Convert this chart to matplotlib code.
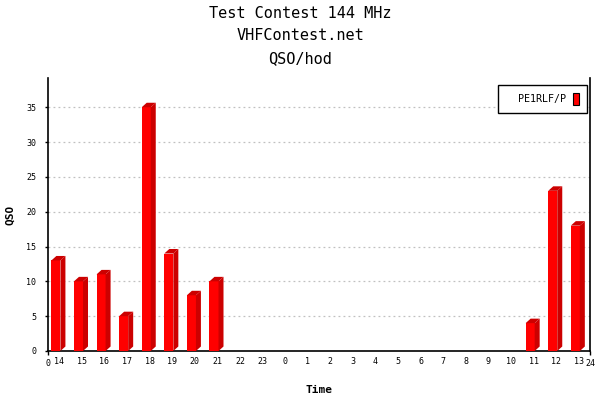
import matplotlib
matplotlib.use("Agg")
import matplotlib.pyplot as plt
from matplotlib.patches import Polygon, Patch

# QSO count per hour, contest runs 14:00 -> 13:00 next day
hours = [14, 15, 16, 17, 18, 19, 20, 21, 22, 23, 0, 1, 2, 3, 4, 5, 6, 7, 8, 9, 10, 11, 12, 13]
qso = [13, 10, 11, 5, 35, 14, 8, 10, 0, 0, 0, 0, 0, 0, 0, 0, 0, 0, 0, 0, 0, 4, 23, 18]
yticks = [0, 5, 10, 15, 20, 25, 30, 35]
station = "PE1RLF/P"
titles = ["Test Contest 144 MHz", "VHFContest.net", "QSO/hod"]

FRONT = "#ff0000"
SIDE = "#cc0000"
MONO = "DejaVu Sans Mono"

fig = plt.figure(figsize=(6, 4), dpi=100)
W, H = 600, 400
ax = fig.add_axes([48 / W, 1 - 351 / H, (590 - 48) / W, (351 - 78) / H])
ax.set_xlim(0, len(hours))
ax.set_ylim(0, 39.2)

# front faces
xs = [i + 0.15 for i in range(len(hours))]
bw = 0.40
ax.bar(xs, qso, width=bw, align="edge", color=FRONT, zorder=3, linewidth=0)

# fake 3D depth (jpgraph style): side + top faces, ~5px right, ~4.5px up
p0 = ax.transData.transform((0, 0))
p1 = ax.transData.transform((1, 1))
dx = 5 / (p1[0] - p0[0])
dy = 4.5 / (p1[1] - p0[1])
for x, h in zip(xs, qso):
    if h <= 0:
        continue
    x1 = x + bw
    ax.add_patch(Polygon([(x1, 0), (x1 + dx, dy), (x1 + dx, h + dy), (x1, h)],
                         closed=True, facecolor=SIDE, edgecolor="none", zorder=3))
    ax.add_patch(Polygon([(x, h), (x + dx, h + dy), (x1 + dx, h + dy), (x1, h)],
                         closed=True, facecolor=SIDE, edgecolor="none", zorder=3))

# grid
ax.set_yticks(yticks)
ax.yaxis.grid(True, color="#c0c0c0", linestyle=(0, (1.5, 2.5)), linewidth=0.9, zorder=0)
ax.set_axisbelow(True)

# axes frame: no top line
ax.spines["top"].set_visible(False)
for s in ("left", "right", "bottom"):
    ax.spines[s].set_linewidth(1.2)

# x ticks: 0 and 24 at ends, hour labels centred in each slot
ax.set_xticks([0, len(hours)])
ax.set_xticklabels(["0", str(len(hours))], fontfamily=MONO, fontsize=6)
ax.set_xticks([i + 0.5 for i in range(len(hours))], minor=True)
ax.set_xticklabels([str(h) for h in hours], minor=True, fontfamily=MONO, fontsize=6)
ax.tick_params(axis="x", which="major", length=3, width=1, pad=3)
ax.tick_params(axis="x", which="minor", length=0, pad=4)
ax.tick_params(axis="y", length=2.5, width=1, pad=6, labelsize=6)
for lbl in ax.get_yticklabels():
    lbl.set_fontfamily(MONO)

ax.set_xlabel("Time", fontfamily=MONO, fontweight="bold", fontsize=8, labelpad=12)
ax.set_ylabel("QSO", fontfamily=MONO, fontweight="bold", fontsize=8, labelpad=8)

for y, t in zip([14, 36, 59], titles):
    fig.text(0.5, 1 - y / H, t, ha="center", va="center",
             fontfamily=MONO, fontsize=11)

leg = ax.legend([Patch(facecolor=FRONT, edgecolor="black", linewidth=0.8)], ["  " + station],
                loc="upper right", bbox_to_anchor=(1 - 3 / 542, 1 - 7 / 273),
                markerfirst=False, fancybox=False, framealpha=1, edgecolor="black",
                prop={"family": MONO, "size": 7.2}, handlelength=0.6, handleheight=1.5,
                borderpad=0.8, handletextpad=0.7, borderaxespad=0)
leg.get_frame().set_linewidth(1.0)

fig.savefig("out.png", dpi=100)
